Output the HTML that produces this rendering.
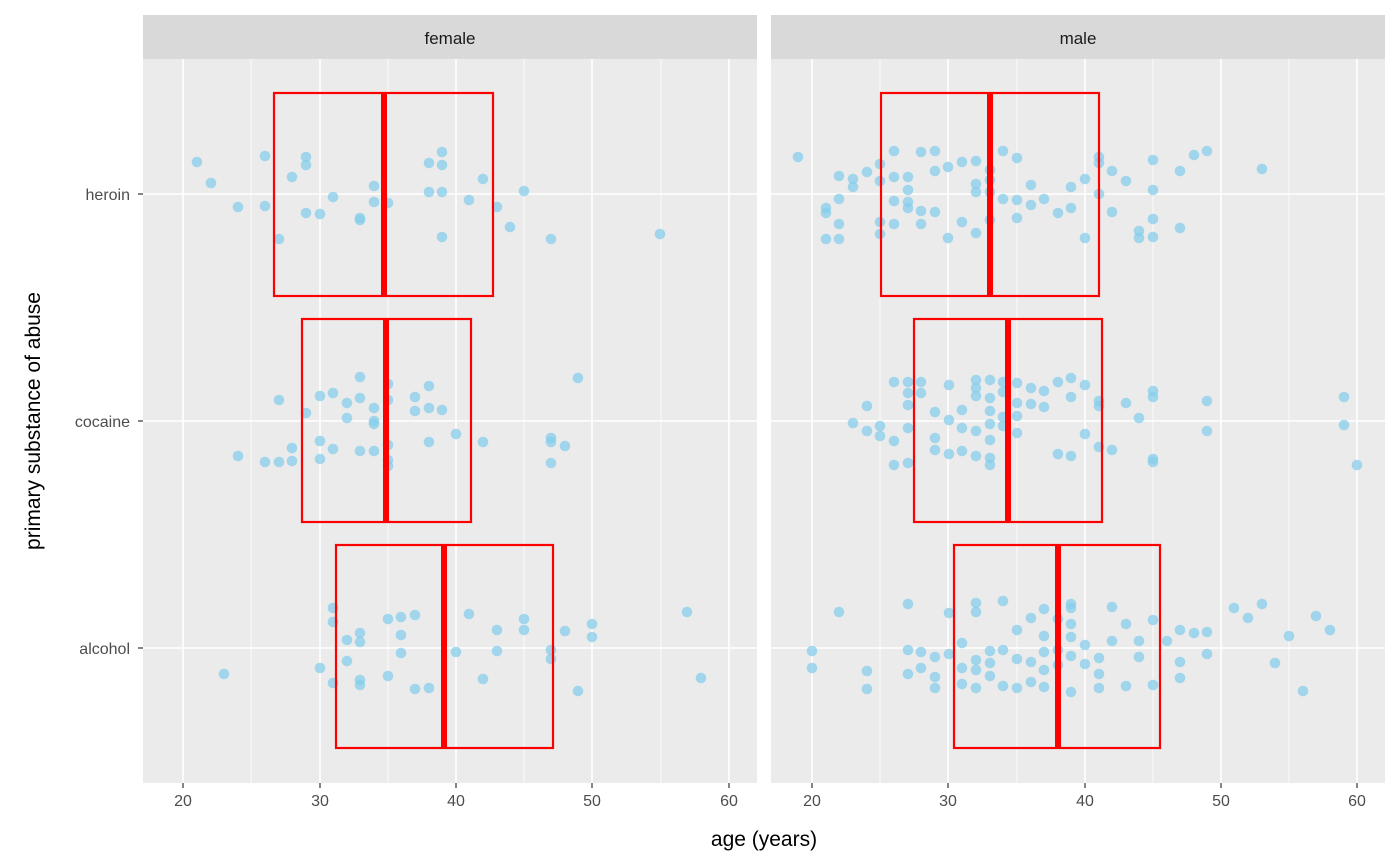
<!DOCTYPE html>
<html><head><meta charset="utf-8"><style>body{margin:0;background:#fff}svg{display:block;font-family:"Liberation Sans",Arial,sans-serif}</style></head><body>
<svg width="1400" height="866" viewBox="0 0 1400 866">
<rect width="1400" height="866" fill="#fff"/>
<g id="panels">
<rect x="143" y="15" width="614" height="44" fill="#D9D9D9"/>
<rect x="771" y="15" width="614" height="44" fill="#D9D9D9"/>
<text x="450" y="44" font-size="17" text-anchor="middle" fill="#1A1A1A">female</text>
<text x="1078" y="44" font-size="17" text-anchor="middle" fill="#1A1A1A">male</text>
<rect x="143" y="59" width="614" height="724" fill="#EBEBEB"/>
<rect x="771" y="59" width="614" height="724" fill="#EBEBEB"/>
<g stroke="#fff" stroke-width="0.8">
<line x1="251" y1="59" x2="251" y2="783"/><line x1="388" y1="59" x2="388" y2="783"/><line x1="524" y1="59" x2="524" y2="783"/><line x1="661" y1="59" x2="661" y2="783"/>
<line x1="880" y1="59" x2="880" y2="783"/><line x1="1017" y1="59" x2="1017" y2="783"/><line x1="1153" y1="59" x2="1153" y2="783"/><line x1="1289" y1="59" x2="1289" y2="783"/>
</g>
<g stroke="#fff" stroke-width="1.6">
<line x1="183" y1="59" x2="183" y2="783"/><line x1="320" y1="59" x2="320" y2="783"/><line x1="456" y1="59" x2="456" y2="783"/><line x1="592" y1="59" x2="592" y2="783"/><line x1="729" y1="59" x2="729" y2="783"/>
<line x1="812" y1="59" x2="812" y2="783"/><line x1="948" y1="59" x2="948" y2="783"/><line x1="1085" y1="59" x2="1085" y2="783"/><line x1="1221" y1="59" x2="1221" y2="783"/><line x1="1357" y1="59" x2="1357" y2="783"/>
<line x1="143" y1="194" x2="757" y2="194"/><line x1="143" y1="421" x2="757" y2="421"/><line x1="143" y1="648" x2="757" y2="648"/>
<line x1="771" y1="194" x2="1385" y2="194"/><line x1="771" y1="421" x2="1385" y2="421"/><line x1="771" y1="648" x2="1385" y2="648"/>
</g>
</g>
<g id="pts" fill="#87CEEB" fill-opacity="0.75"></g>
<g fill="none" stroke="#FF0000" stroke-width="2.2">
<rect x="274" y="93" width="219" height="203"/><rect x="302" y="319" width="169" height="203"/><rect x="336" y="545" width="217" height="203"/>
<rect x="881" y="93" width="218" height="203"/><rect x="914" y="319" width="188" height="203"/><rect x="954" y="545" width="206" height="203"/>
</g>
<g stroke="#FF0000" stroke-width="6">
<line x1="384" y1="93" x2="384" y2="296"/><line x1="386" y1="319" x2="386" y2="522"/><line x1="444" y1="545" x2="444" y2="748"/>
<line x1="990" y1="93" x2="990" y2="296"/><line x1="1008" y1="319" x2="1008" y2="522"/><line x1="1058" y1="545" x2="1058" y2="748"/>
</g>
<g stroke="#333" stroke-width="1.2">
<line x1="138" y1="194" x2="143" y2="194"/><line x1="138" y1="421" x2="143" y2="421"/><line x1="138" y1="648" x2="143" y2="648"/>
<line x1="183" y1="783" x2="183" y2="788"/><line x1="320" y1="783" x2="320" y2="788"/><line x1="456" y1="783" x2="456" y2="788"/><line x1="592" y1="783" x2="592" y2="788"/><line x1="729" y1="783" x2="729" y2="788"/>
<line x1="812" y1="783" x2="812" y2="788"/><line x1="948" y1="783" x2="948" y2="788"/><line x1="1085" y1="783" x2="1085" y2="788"/><line x1="1221" y1="783" x2="1221" y2="788"/><line x1="1357" y1="783" x2="1357" y2="788"/>
</g>
<g font-size="16" fill="#4D4D4D" text-anchor="end">
<text x="130" y="200">heroin</text><text x="130" y="427">cocaine</text><text x="130" y="654">alcohol</text>
</g>
<g font-size="16" fill="#4D4D4D" text-anchor="middle">
<text x="183" y="806">20</text><text x="320" y="806">30</text><text x="456" y="806">40</text><text x="592" y="806">50</text><text x="729" y="806">60</text>
<text x="812" y="806">20</text><text x="948" y="806">30</text><text x="1085" y="806">40</text><text x="1221" y="806">50</text><text x="1357" y="806">60</text>
</g>
<text x="764" y="846" font-size="21" text-anchor="middle" fill="#000">age (years)</text>
<text transform="translate(40,421) rotate(-90)" font-size="21" text-anchor="middle" fill="#000">primary substance of abuse</text>
</svg>
<script>
var p=[[197,162],[211,183],[238,207],[265,156],[265,206],[279,239],[292,177],[306,157],[306,165],[306,213],[320,214],[333,197],[360,218],[360,220],[374,186],[374,202],[388,203],[429,163],[429,192],[442,152],[442,165],[442,192],[442,237],[469,200],[483,179],[497,207],[510,227],[524,191],[551,239],[660,234],
[238,456],[265,462],[279,462],[279,400],[292,448],[292,461],[306,413],[320,396],[320,441],[320,459],[333,449],[333,393],[347,403],[347,418],[360,377],[360,398],[360,451],[374,408],[374,421],[374,424],[374,451],[388,384],[388,400],[388,445],[388,460],[388,466],[415,397],[415,411],[429,386],[429,408],[442,410],[429,442],[456,434],[483,442],[551,438],[551,442],[565,446],[551,463],[578,378],
[224,674],[320,668],[333,608],[333,622],[333,683],[347,640],[347,661],[360,633],[360,642],[360,680],[360,685],[388,619],[388,676],[401,617],[401,635],[401,653],[415,615],[415,689],[429,688],[456,652],[469,614],[483,679],[497,630],[497,651],[524,619],[524,630],[551,650],[551,659],[565,631],[578,691],[592,624],[592,637],[687,612],[701,678],
[798,157],[826,239],[826,208],[826,213],[839,176],[839,199],[839,224],[839,239],[853,179],[853,187],[867,172],[880,164],[880,181],[880,222],[880,234],[894,151],[894,177],[894,201],[894,224],[908,190],[908,202],[908,208],[908,177],[921,152],[921,211],[921,224],[935,151],[935,171],[935,212],[948,167],[948,238],[962,162],[962,222],[976,161],[976,184],[976,192],[976,233],[990,170],[990,180],[990,192],[990,220],[1003,151],[1003,199],[1017,158],[1017,200],[1017,218],[1031,185],[1031,205],[1044,199],[1058,213],[1071,187],[1071,208],[1085,179],[1085,238],[1099,157],[1099,163],[1099,194],[1112,171],[1112,212],[1126,181],[1139,231],[1139,238],[1153,160],[1153,190],[1153,219],[1153,237],[1180,171],[1180,228],[1194,155],[1207,151],[1262,169],
[853,423],[867,406],[867,431],[880,436],[880,426],[894,382],[894,441],[894,465],[908,382],[908,393],[908,405],[908,428],[908,463],[921,382],[921,393],[935,412],[935,438],[935,450],[949,385],[949,420],[949,454],[962,410],[962,428],[962,451],[976,380],[976,388],[976,396],[976,431],[976,456],[990,380],[990,398],[990,411],[990,424],[990,440],[990,458],[990,465],[1003,382],[1003,392],[1003,417],[1003,426],[1017,383],[1017,403],[1017,416],[1017,433],[1031,388],[1031,404],[1044,391],[1044,407],[1058,382],[1058,454],[1071,378],[1071,397],[1071,456],[1085,385],[1085,434],[1099,401],[1099,406],[1099,447],[1112,450],[1126,403],[1139,418],[1153,391],[1153,397],[1153,459],[1153,462],[1207,401],[1207,431],[1344,397],[1344,425],[1357,465],
[812,651],[812,668],[839,612],[867,671],[867,689],[908,604],[908,650],[908,674],[921,652],[921,668],[935,657],[935,677],[935,688],[949,613],[949,654],[962,643],[962,668],[962,684],[976,603],[976,612],[976,660],[976,670],[976,688],[990,651],[990,663],[990,676],[1003,601],[1003,650],[1003,686],[1017,630],[1017,659],[1017,688],[1031,618],[1031,662],[1031,682],[1044,609],[1044,636],[1044,652],[1044,670],[1044,687],[1058,619],[1058,650],[1058,665],[1071,604],[1071,608],[1071,624],[1071,637],[1071,656],[1071,692],[1085,645],[1085,664],[1099,658],[1099,674],[1099,688],[1112,607],[1112,641],[1126,624],[1126,686],[1139,641],[1139,657],[1153,620],[1153,685],[1167,641],[1180,630],[1180,662],[1180,678],[1194,633],[1207,632],[1207,654],[1234,608],[1248,618],[1262,604],[1275,663],[1289,636],[1303,691],[1316,616],[1330,630]];
var g=document.getElementById('pts'),s='';
p.forEach(function(a){s+='<circle cx="'+a[0]+'" cy="'+a[1]+'" r="5.3"/>';});
g.innerHTML=s;
</script>
</body></html>
